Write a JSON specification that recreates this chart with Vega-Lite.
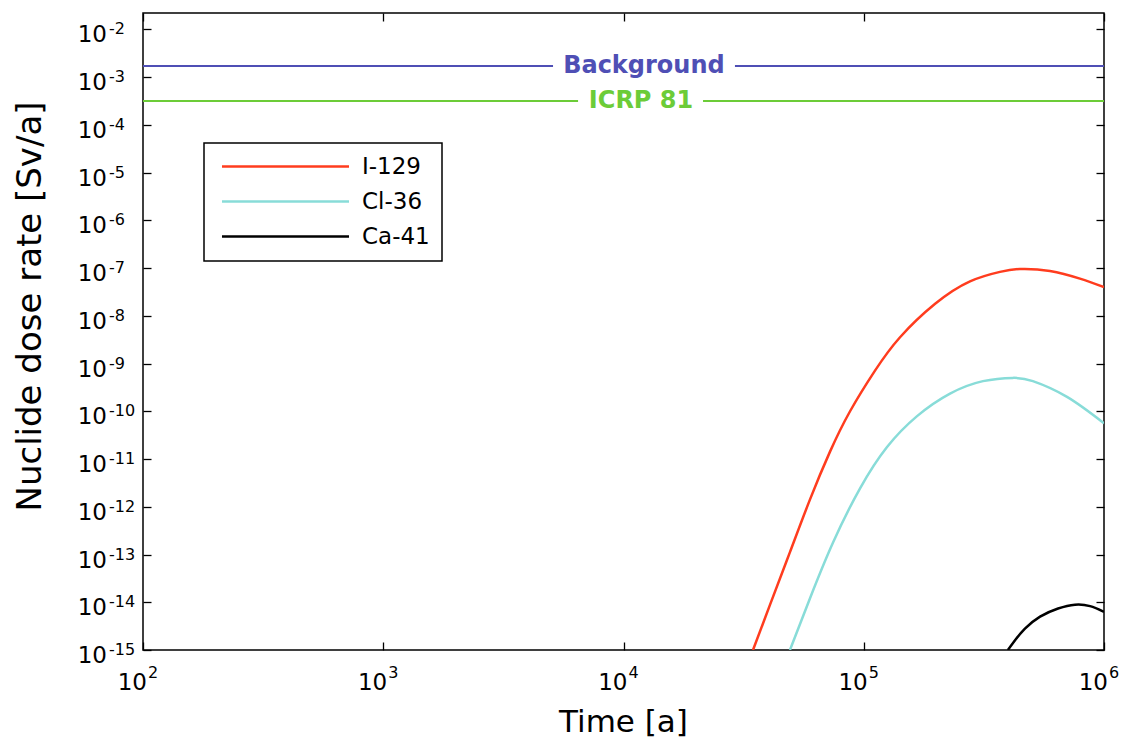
{
  "$schema": "https://vega.github.io/schema/vega-lite/v6.json",
  "width": 961,
  "height": 637,
  "autosize": {"type": "none"},
  "padding": {"left": 143, "top": 13, "right": 31, "bottom": 97},
  "background": "white",
  "config": {
    "view": {"stroke": "black", "strokeWidth": 1.5},
    "font": "DejaVu Sans",
    "axis": {"grid": false, "labels": false, "domain": false, "tickColor": "black", "tickWidth": 1.3, "tickSize": -8}
  },
  "resolve": {"axis": {"x": "independent", "y": "independent"}},
  "layer": [
    {
      "data": {"values": [
        {"nuclide": "I-129", "t": 34600, "dose": 1e-15},
        {"nuclide": "I-129", "t": 40740, "dose": 8.9e-15},
        {"nuclide": "I-129", "t": 49300, "dose": 1.12e-13},
        {"nuclide": "I-129", "t": 59700, "dose": 1.41e-12},
        {"nuclide": "I-129", "t": 72300, "dose": 1.41e-11},
        {"nuclide": "I-129", "t": 87700, "dose": 1e-10},
        {"nuclide": "I-129", "t": 111400, "dose": 7.1e-10},
        {"nuclide": "I-129", "t": 141600, "dose": 3.55e-9},
        {"nuclide": "I-129", "t": 198200, "dose": 1.78e-8},
        {"nuclide": "I-129", "t": 276900, "dose": 5.25e-8},
        {"nuclide": "I-129", "t": 369000, "dose": 8.3e-8},
        {"nuclide": "I-129", "t": 446700, "dose": 9.55e-8},
        {"nuclide": "I-129", "t": 595700, "dose": 8.7e-8},
        {"nuclide": "I-129", "t": 794000, "dose": 6.0e-8},
        {"nuclide": "I-129", "t": 1000000, "dose": 3.98e-8},
        {"nuclide": "Cl-36", "t": 49300, "dose": 1e-15},
        {"nuclide": "Cl-36", "t": 59700, "dose": 1.2e-14},
        {"nuclide": "Cl-36", "t": 74500, "dose": 1.78e-13},
        {"nuclide": "Cl-36", "t": 96400, "dose": 2.4e-12},
        {"nuclide": "Cl-36", "t": 125000, "dose": 1.78e-11},
        {"nuclide": "Cl-36", "t": 166700, "dose": 7.9e-11},
        {"nuclide": "Cl-36", "t": 228600, "dose": 2.34e-10},
        {"nuclide": "Cl-36", "t": 313500, "dose": 4.27e-10},
        {"nuclide": "Cl-36", "t": 417800, "dose": 5.0e-10},
        {"nuclide": "Cl-36", "t": 505800, "dose": 4.27e-10},
        {"nuclide": "Cl-36", "t": 701500, "dose": 2.0e-10},
        {"nuclide": "Cl-36", "t": 1000000, "dose": 5.6e-11},
        {"nuclide": "Ca-41", "t": 398000, "dose": 1e-15},
        {"nuclide": "Ca-41", "t": 425600, "dose": 1.58e-15},
        {"nuclide": "Ca-41", "t": 468800, "dose": 2.8e-15},
        {"nuclide": "Ca-41", "t": 541800, "dose": 5.0e-15},
        {"nuclide": "Ca-41", "t": 644000, "dose": 7.4e-15},
        {"nuclide": "Ca-41", "t": 757000, "dose": 8.9e-15},
        {"nuclide": "Ca-41", "t": 875000, "dose": 8.3e-15},
        {"nuclide": "Ca-41", "t": 1000000, "dose": 6.3e-15}
      ]},
      "mark": {"type": "line", "strokeWidth": 2.5, "interpolate": "natural", "clip": true},
      "encoding": {
        "x": {"field": "t", "type": "quantitative",
          "scale": {"type": "log", "domain": [100, 1000000], "nice": false},
          "axis": {"orient": "bottom", "values": [100, 1000, 10000, 100000, 1000000],
            "title": "Time [a]", "titleFont": "DejaVu Sans", "titleFontSize": 31, "titleFontWeight": "normal", "titleColor": "black",
            "titleX": 480, "titleY": 81, "titleAlign": "center", "titleBaseline": "alphabetic"}},
        "y": {"field": "dose", "type": "quantitative",
          "scale": {"type": "log", "domain": [1e-15, 0.0219], "nice": false},
          "axis": {"orient": "left", "values": [1e-15, 1e-14, 1e-13, 1e-12, 1e-11, 1e-10, 1e-9, 1e-8, 1e-7, 1e-6, 1e-5, 1e-4, 1e-3, 1e-2],
            "title": "Nuclide dose rate [Sv/a]", "titleFont": "DejaVu Sans", "titleFontSize": 34, "titleFontWeight": "normal", "titleColor": "black",
            "titleX": -113, "titleY": 293, "titleAlign": "center", "titleBaseline": "middle", "titleAngle": 270}},
        "color": {"field": "nuclide", "type": "nominal",
          "scale": {"domain": ["I-129", "Cl-36", "Ca-41"], "range": ["#ff3c1e", "#88dcd8", "#000000"]},
          "legend": {"orient": "none", "legendX": 61, "legendY": 130, "title": null,
            "symbolType": "M-0.58,0H12.79", "symbolSize": 361, "symbolStrokeWidth": 2.5,
            "labelFont": "DejaVu Sans", "labelFontSize": 23, "labelColor": "black", "labelOffset": 123,
            "labelExpr": "datum.label + '\u00a0\u00a0\u00a0'",
            "padding": 12, "rowPadding": 11, "strokeColor": "black", "fillColor": "white", "labelLimit": 300,
            "encode": {"legend": {"update": {"strokeWidth": {"value": 1.5}}}}}}
      }
    },
    {
      "data": {"values": [
        {"x": 100, "x2": 5090, "y": 0.0017},
        {"x": 29100, "x2": 1000000, "y": 0.0017}
      ]},
      "mark": {"type": "rule", "color": "#4f4fb5", "strokeWidth": 2},
      "encoding": {
        "x": {"field": "x", "type": "quantitative",
          "scale": {"type": "log", "domain": [100, 1000000], "nice": false},
          "axis": {"orient": "top", "values": [100, 1000, 10000, 100000, 1000000], "title": null}},
        "x2": {"field": "x2"},
        "y": {"field": "y", "type": "quantitative",
          "scale": {"type": "log", "domain": [1e-15, 0.0219], "nice": false},
          "axis": {"orient": "right", "values": [1e-15, 1e-14, 1e-13, 1e-12, 1e-11, 1e-10, 1e-9, 1e-8, 1e-7, 1e-6, 1e-5, 1e-4, 1e-3, 1e-2], "title": null}}
      }
    },
    {
      "data": {"values": [
        {"x": 100, "x2": 6470, "y": 0.000316},
        {"x": 21430, "x2": 1000000, "y": 0.000316}
      ]},
      "mark": {"type": "rule", "color": "#6ccc38", "strokeWidth": 2},
      "encoding": {
        "x": {"field": "x", "type": "quantitative", "scale": {"type": "log", "domain": [100, 1000000], "nice": false}, "axis": null},
        "x2": {"field": "x2"},
        "y": {"field": "y", "type": "quantitative", "scale": {"type": "log", "domain": [1e-15, 0.0219], "nice": false}, "axis": null}
      }
    },
    {
      "data": {"values": [
        {"x": 12160, "y": 0.0017, "label": "Background", "kind": "bg"},
        {"x": 11830, "y": 0.000316, "label": "ICRP 81", "kind": "icrp"}
      ]},
      "mark": {"type": "text", "font": "DejaVu Sans", "fontSize": 24, "fontWeight": "bold", "align": "center", "baseline": "middle"},
      "encoding": {
        "x": {"field": "x", "type": "quantitative", "scale": {"type": "log", "domain": [100, 1000000], "nice": false}, "axis": null},
        "y": {"field": "y", "type": "quantitative", "scale": {"type": "log", "domain": [1e-15, 0.0219], "nice": false}, "axis": null},
        "text": {"field": "label"},
        "fill": {"field": "kind", "type": "nominal", "scale": {"domain": ["bg", "icrp"], "range": ["#4f4fb5", "#6ccc38"]}, "legend": null}
      }
    },
    {
      "data": {"values": [
        {"v": 1e-15, "e": "-15"}, {"v": 1e-14, "e": "-14"}, {"v": 1e-13, "e": "-13"}, {"v": 1e-12, "e": "-12"},
        {"v": 1e-11, "e": "-11"}, {"v": 1e-10, "e": "-10"}, {"v": 1e-9, "e": "-9"}, {"v": 1e-8, "e": "-8"},
        {"v": 1e-7, "e": "-7"}, {"v": 1e-6, "e": "-6"}, {"v": 1e-5, "e": "-5"}, {"v": 1e-4, "e": "-4"},
        {"v": 1e-3, "e": "-3"}, {"v": 1e-2, "e": "-2"}
      ]},
      "layer": [
        {
          "mark": {"type": "text", "font": "DejaVu Sans", "fontSize": 23, "align": "right", "baseline": "alphabetic", "dx": -36, "dy": 13, "color": "black", "clip": false},
          "encoding": {
            "x": {"datum": 100, "type": "quantitative", "scale": {"type": "log", "domain": [100, 1000000], "nice": false}, "axis": null},
            "y": {"field": "v", "type": "quantitative", "scale": {"type": "log", "domain": [1e-15, 0.0219], "nice": false}, "axis": null},
            "text": {"value": "10"}
          }
        },
        {
          "mark": {"type": "text", "font": "DejaVu Sans", "fontSize": 16, "align": "left", "baseline": "alphabetic", "dx": -34, "dy": 5, "color": "black", "clip": false},
          "encoding": {
            "x": {"datum": 100, "type": "quantitative", "scale": {"type": "log", "domain": [100, 1000000], "nice": false}, "axis": null},
            "y": {"field": "v", "type": "quantitative", "scale": {"type": "log", "domain": [1e-15, 0.0219], "nice": false}, "axis": null},
            "text": {"field": "e"}
          }
        }
      ]
    },
    {
      "data": {"values": [
        {"v": 100, "e": "2"}, {"v": 1000, "e": "3"}, {"v": 10000, "e": "4"}, {"v": 100000, "e": "5"}, {"v": 1000000, "e": "6"}
      ]},
      "layer": [
        {
          "mark": {"type": "text", "font": "DejaVu Sans", "fontSize": 23, "align": "right", "baseline": "alphabetic", "dx": 4, "dy": 40, "color": "black", "clip": false},
          "encoding": {
            "x": {"field": "v", "type": "quantitative", "scale": {"type": "log", "domain": [100, 1000000], "nice": false}, "axis": null},
            "y": {"datum": 1e-15, "type": "quantitative", "scale": {"type": "log", "domain": [1e-15, 0.0219], "nice": false}, "axis": null},
            "text": {"value": "10"}
          }
        },
        {
          "mark": {"type": "text", "font": "DejaVu Sans", "fontSize": 16, "align": "left", "baseline": "alphabetic", "dx": 5, "dy": 28, "color": "black", "clip": false},
          "encoding": {
            "x": {"field": "v", "type": "quantitative", "scale": {"type": "log", "domain": [100, 1000000], "nice": false}, "axis": null},
            "y": {"datum": 1e-15, "type": "quantitative", "scale": {"type": "log", "domain": [1e-15, 0.0219], "nice": false}, "axis": null},
            "text": {"field": "e"}
          }
        }
      ]
    }
  ]
}
